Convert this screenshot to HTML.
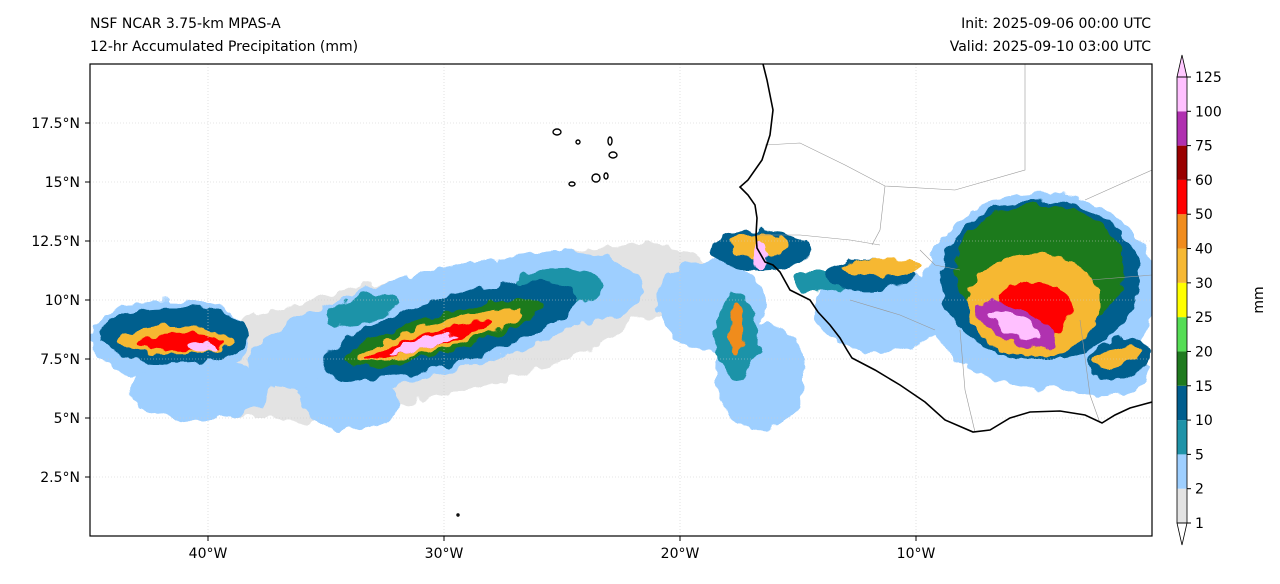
<!DOCTYPE html>
<html><head><meta charset="utf-8"><style>
body{margin:0;background:#fff;font-family:"DejaVu Sans","Liberation Sans",sans-serif;}
svg text{font-family:"DejaVu Sans","Liberation Sans",sans-serif;}
</style></head><body>
<svg id="chart" width="1280" height="580" xmlns="http://www.w3.org/2000/svg">
<text x="90" y="28" font-size="14">NSF NCAR 3.75-km MPAS-A</text>
<text x="90" y="51" font-size="14">12-hr Accumulated Precipitation (mm)</text>
<text x="1151" y="28" font-size="14" text-anchor="end">Init: 2025-09-06 00:00 UTC</text>
<text x="1151" y="51" font-size="14" text-anchor="end">Valid: 2025-09-10 03:00 UTC</text>
<defs>
<clipPath id="mapclip"><rect x="90" y="64" width="1062" height="472"/></clipPath>
<filter id="rough" x="-5%" y="-5%" width="110%" height="110%">
<feTurbulence type="fractalNoise" baseFrequency="0.07" numOctaves="2" seed="3" result="n"/>
<feDisplacementMap in="SourceGraphic" in2="n" scale="14" xChannelSelector="R" yChannelSelector="G"/>
</filter>
</defs>
<g id="map" clip-path="url(#mapclip)"><g id="precip" filter="url(#rough)"></g></g>
<rect x="90" y="64" width="1062" height="472" fill="none" stroke="#000" stroke-width="1.2"/>
<g id="axes"></g>
<g id="cbar"></g>
<text x="1263" y="300" font-size="14" text-anchor="middle" transform="rotate(-90 1263 300)">mm</text>
</svg>
<script>
const levels=[1,2,5,10,15,20,25,30,40,50,60,75,100,125];
const colors=['#e3e3e3','#9ecfff','#1f93a8','#005e8e','#1f7a1f','#55dd55','#ffff00','#f6b833','#f08c1e','#ff0000','#990000','#b030b0','#ffc0ff'];
const lonTicks=[-40,-30,-20,-10];
const lonLabels=['40°W','30°W','20°W','10°W'];
const latTicks=[2.5,5,7.5,10,12.5,15,17.5];
const latLabels=['2.5°N','5°N','7.5°N','10°N','12.5°N','15°N','17.5°N'];
// precipitation blobs: lon, lat, rx(deg), ry(deg), rot, level index
const blobLon=[-32.0,-21.5,-36.1,-4.75,-41.6,-30.5,-25.1,-18.7,-16.6,-11.5,-2.2,-40.3,-34.0,-41.4,-29.75,-25.1,-17.6,-16.6,-12.0,-4.75,-1.4,-4.75,-30.0,-5.0,-30.2,-41.4,-16.6,-11.5,-17.6,-5.0,-30.6,-41.2,-5.8,-31.0,-5.8,-16.6,-40.3,-1.5,-33.5,-14.0,-24.0];
const blobLat=[8.2,10.8,6.4,10.4,8.3,9.0,10.5,9.8,6.8,9.6,7.0,6.2,5.8,8.5,8.7,10.6,8.5,12.1,11.1,10.85,7.5,11.3,8.6,9.8,8.5,8.3,12.3,11.4,8.75,9.6,8.3,8.2,8.95,8.1,8.95,11.9,8.0,7.6,9.6,10.8,11.3];
const blobRx=[10.5,3.0,1.7,5.0,3.4,8.0,3.5,2.3,1.9,2.8,2.1,3.0,2.1,3.2,5.6,1.8,0.9,2.1,1.9,4.2,1.3,3.6,4.4,2.8,3.6,2.4,1.3,1.7,0.3,1.6,2.8,1.9,1.8,1.5,1.2,0.35,0.6,1.0,1.6,1.3,2.5];
const blobRy=[2.6,1.6,1.6,4.1,1.7,2.2,1.6,1.9,2.3,1.8,1.1,1.3,1.3,1.2,1.4,0.8,1.8,0.85,0.65,3.4,0.85,2.75,0.8,2.2,0.55,0.6,0.5,0.35,1.1,1.2,0.3,0.35,0.7,0.22,0.4,0.6,0.18,0.4,0.6,0.5,0.9];
const blobRot=[-10,0,0,0,0,-14,0,0,0,0,0,0,0,0,-16,0,0,0,0,0,-15,0,-16,0,-16,0,0,0,0,0,-16,0,25,-16,25,0,0,-15,-15,0,-10];
const blobLvl=[0,0,0,1,1,1,1,1,1,1,1,1,1,3,3,2,2,3,3,3,3,4,4,7,7,7,7,7,8,9,9,9,11,12,12,12,12,7,2,2,0];
const X0=90,Y0=64,W=1062,H=472;
const xs=lon=>X0+(lon+45)/45*W;
const ys=lat=>Y0+(20-lat)/20*H;
const ppd=W/45;
const NS='http://www.w3.org/2000/svg';
function mk(t,a,p){const e=document.createElementNS(NS,t);for(const k in a)e.setAttribute(k,a[k]);p.appendChild(e);return e;}
const map=document.getElementById('map');
const precip=document.getElementById('precip');
lonTicks.forEach(v=>{const l=mk('line',{x1:xs(v),x2:xs(v),y1:Y0,y2:Y0+H,stroke:'#ccc','stroke-width':0.6,'stroke-dasharray':'1,2'},map);

});
latTicks.forEach(v=>{const l=mk('line',{x1:X0,x2:X0+W,y1:ys(v),y2:ys(v),stroke:'#ccc','stroke-width':0.6,'stroke-dasharray':'1,2'},map);

});
const idx=blobLon.map((_,i)=>i).sort((a,b)=>blobLvl[a]-blobLvl[b]);
idx.forEach(i=>{const cx=xs(blobLon[i]),cy=ys(blobLat[i]);
const e=mk('ellipse',{cx:cx,cy:cy,rx:blobRx[i]*ppd,ry:blobRy[i]*ppd,fill:colors[blobLvl[i]],transform:`rotate(${blobRot[i]} ${cx} ${cy})`},precip);

});
const borders=["M765,145 L800,143 L845,165 L885,186 L955,190 L1025,170 L1025,64","M885,186 L880,230 L872,245","M757,235 L800,235 L850,240 L880,245","M920,250 L935,265 L960,270","M1085,200 L1152,170","M1090,280 L1152,275","M1080,320 L1090,395 L1100,423","M960,330 L965,390 L975,432","M850,300 L900,315 L935,330"];
borders.forEach(d=>{const p=mk('path',{d:d,fill:'none',stroke:'#999','stroke-width':0.6},map);

});
const coast=mk('path',{d:"M763,64 L767,80 L773,110 L770,135 L762,160 L748,180 L740,187 L748,195 L755,205 L757,218 L756,235 L757,248 L765,262 L773,265 L780,272 L790,290 L810,300 L818,312 L830,325 L840,338 L847,350 L852,358 L875,370 L900,385 L925,402 L945,420 L973,432 L990,430 L1010,418 L1030,412 L1060,411 L1085,415 L1102,423 L1115,415 L1130,408 L1152,402",fill:'none',stroke:'#000','stroke-width':1.6},map);


const isl=[[557,132,4,3],[578,142,2,2],[610,141,2,4],[613,155,4,3],[572,184,3,2],[596,178,4,4],[606,176,2,3],[458,515,1,1]];
isl.forEach(a=>{const e=mk('ellipse',{cx:a[0],cy:a[1],rx:a[2],ry:a[3],fill:'none',stroke:'#000','stroke-width':1.4},map);

});
const ax=document.getElementById('axes');
lonTicks.forEach((v,i)=>{mk('line',{x1:xs(v),x2:xs(v),y1:Y0+H,y2:Y0+H+5,stroke:'#000'},ax);
const t=mk('text',{x:xs(v),y:Y0+H+22,'font-size':14,'text-anchor':'middle'},ax);t.textContent=lonLabels[i];

});
latTicks.forEach((v,i)=>{mk('line',{x1:X0-5,x2:X0,y1:ys(v),y2:ys(v),stroke:'#000'},ax);
const t=mk('text',{x:X0-10,y:ys(v)+5,'font-size':14,'text-anchor':'end'},ax);t.textContent=latLabels[i];

});
const cb=document.getElementById('cbar');
const cbY=v=>523-levels.indexOf(v)*(446/13);
const cx0=1177,cw=10;
for(let i=0;i<colors.length;i++){const y1=cbY(levels[i+1]),y2=cbY(levels[i]);
const r=mk('rect',{x:cx0,y:y1,width:cw,height:y2-y1,fill:colors[i]},cb);

}
mk('path',{d:`M${cx0},${cbY(125)} L${cx0+cw/2},55 L${cx0+cw},${cbY(125)} Z`,fill:'#ffc8ff',stroke:'#000','stroke-width':0.8},cb);
mk('path',{d:`M${cx0},${cbY(1)} L${cx0+cw/2},545 L${cx0+cw},${cbY(1)} Z`,fill:'#fff',stroke:'#000','stroke-width':0.8},cb);
mk('rect',{x:cx0,y:cbY(125),width:cw,height:cbY(1)-cbY(125),fill:'none',stroke:'#000','stroke-width':0.8},cb);
levels.forEach(v=>{mk('line',{x1:cx0+cw,x2:cx0+cw+4,y1:cbY(v),y2:cbY(v),stroke:'#000'},cb);
const t=mk('text',{x:cx0+cw+8,y:cbY(v)+5,'font-size':14},cb);t.textContent=v;

});
</script>
</body></html>
